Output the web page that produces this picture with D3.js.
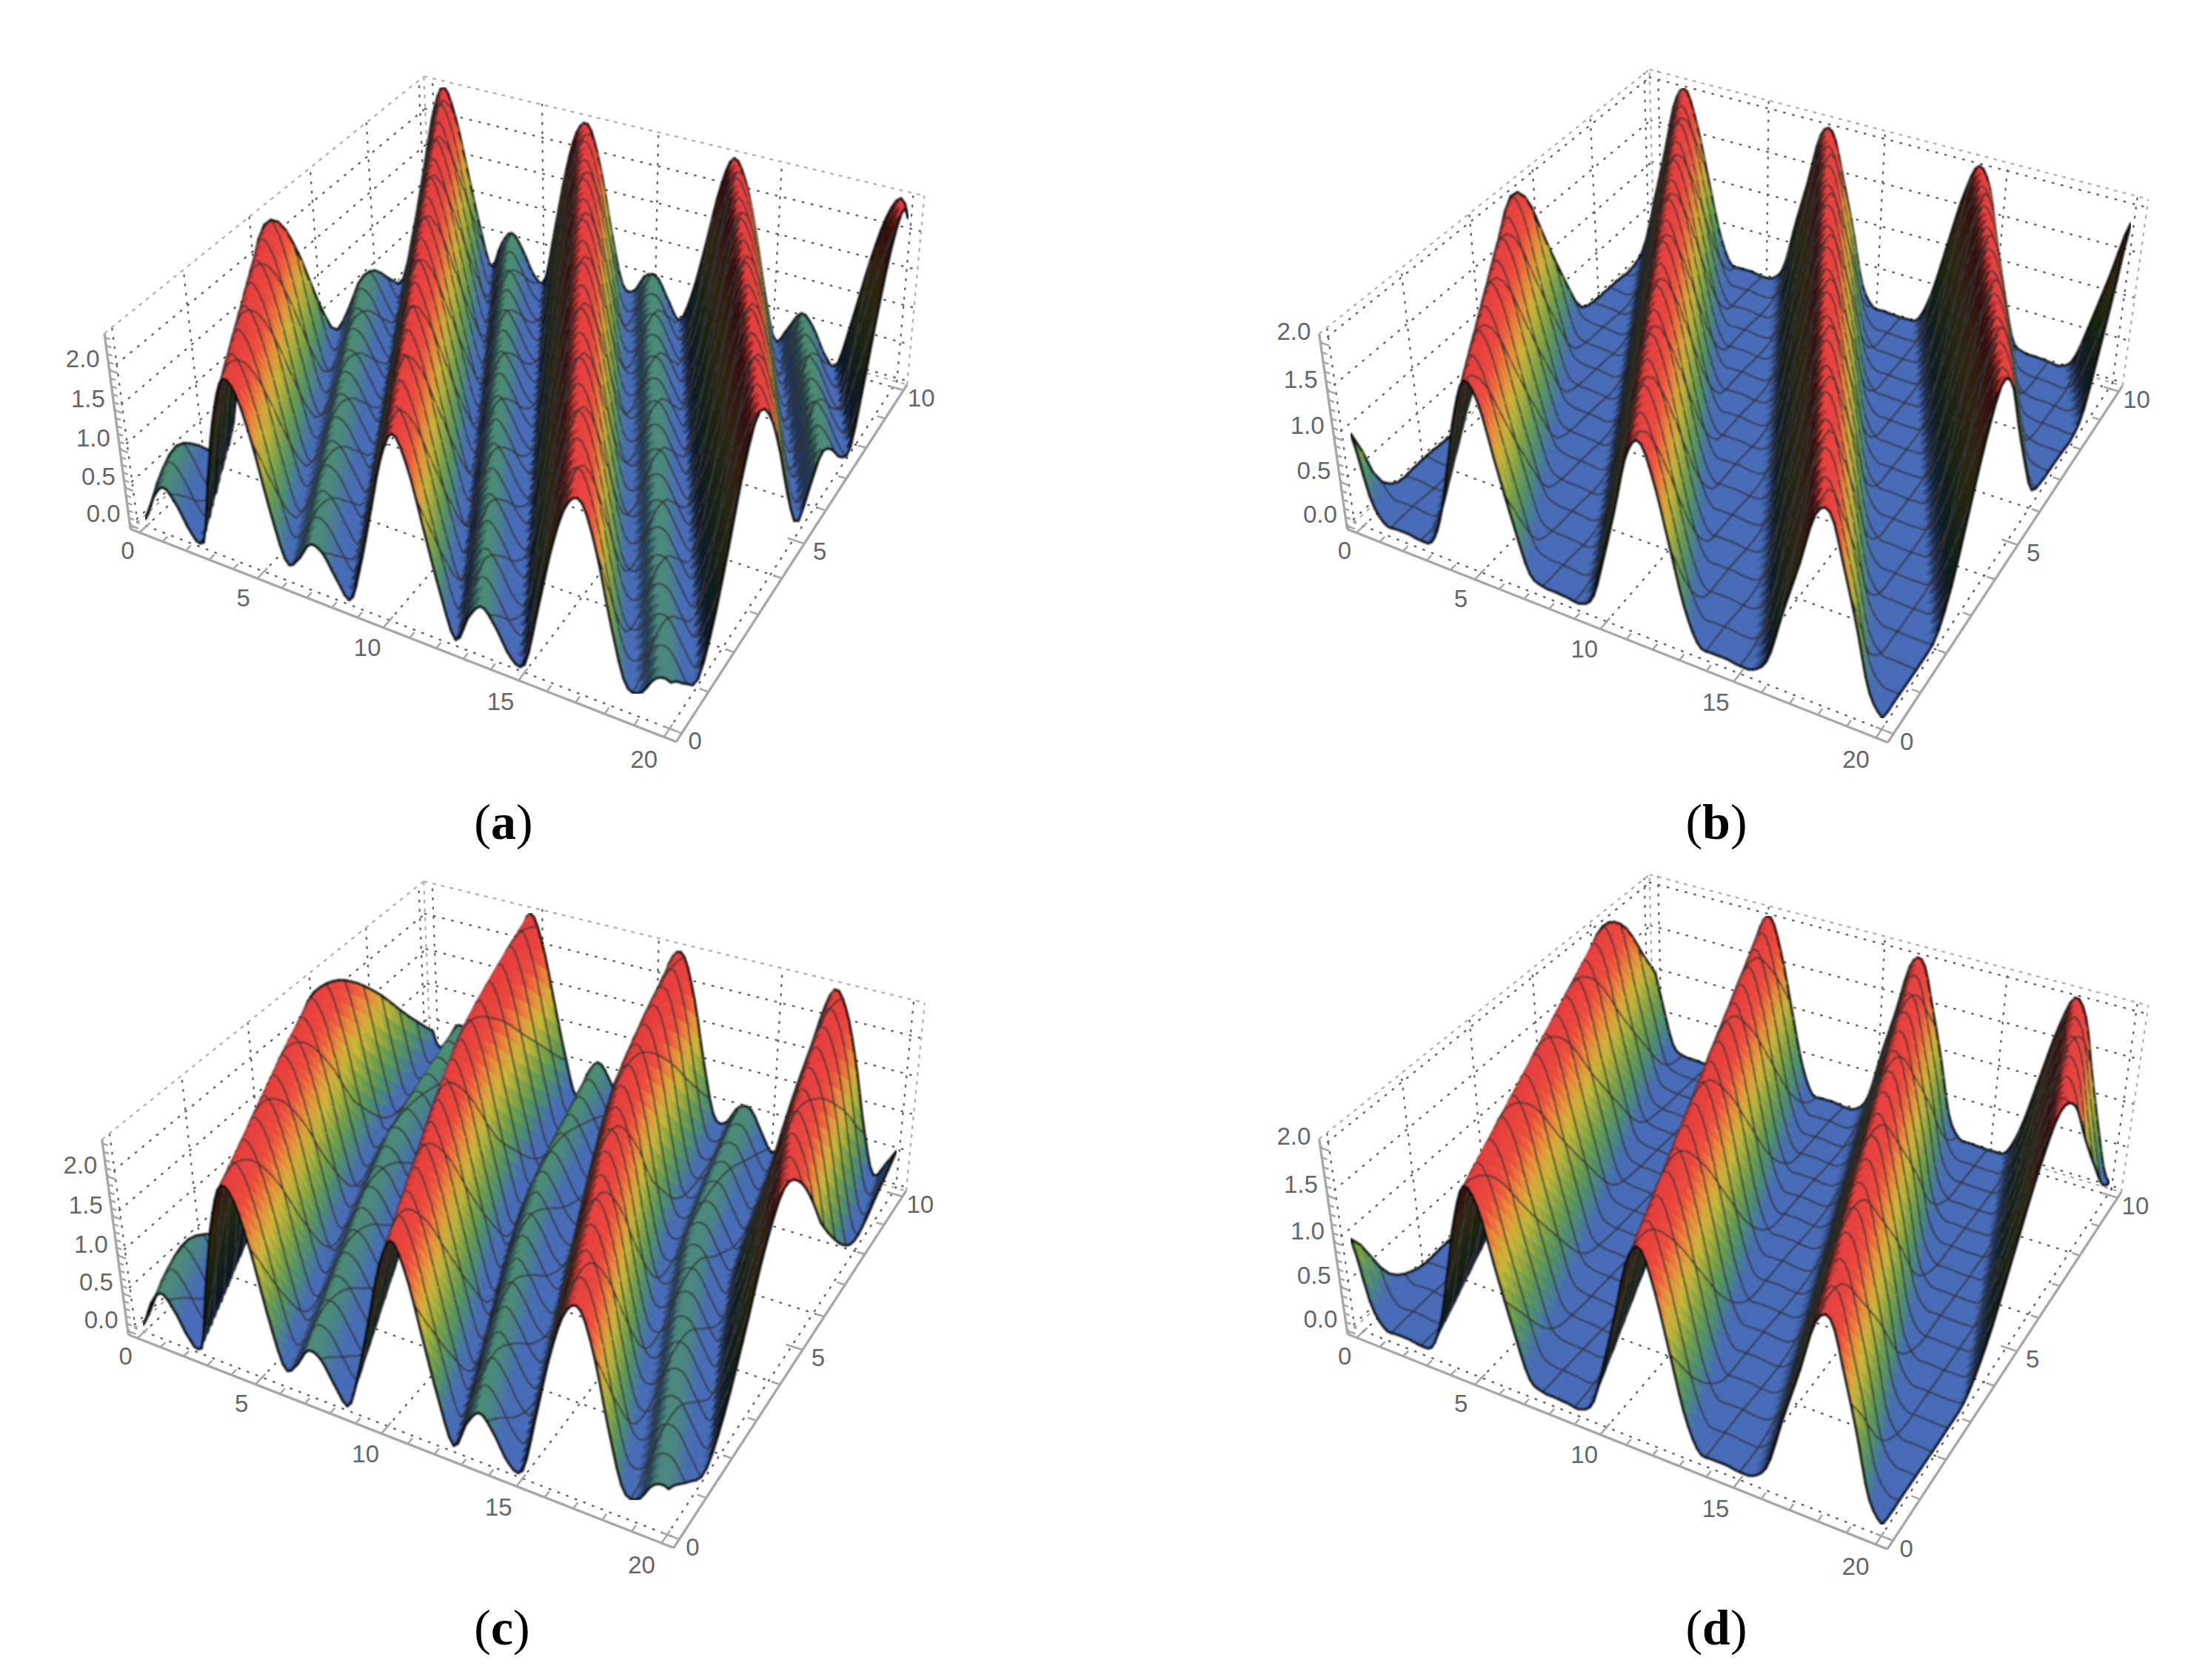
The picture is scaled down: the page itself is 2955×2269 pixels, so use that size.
<!DOCTYPE html>
<html><head><meta charset="utf-8">
<script src="https://cdn.jsdelivr.net/npm/d3@7/dist/d3.min.js"></script>
<style>html,body{margin:0;padding:0;background:#fff}svg{display:block}</style>
</head><body><svg id="chart" width="2955" height="2269"></svg>
<script>
// ---------- data ----------
// height along the wave phase (x + rowShift), sampled every 0.5
const phaseStep = 0.5;
const profileBumped = [.05,.40,.58,.40,.10,.03,.95,1.75,2.25,2.15,1.60,.80,.20,.30,.55,.50,.22,.02,.55,1.25,1.95,2.30,1.95,1.25,.55,.03,.38,.58,.38,.08,.05,.80,1.60,2.15,2.25,1.75,.95,.30,.25,.50,.52,.25,.03,.42,1.10,1.85,2.28,2.05,1.45,.68,.12,.33,.57,.42,.12,.02,.68,1.45,2.05,2.28,1.85];
const profileFlat = [1.00,.33,.09,.08,.08,.06,.10,.45,1.05,1.65,2.03,1.85,1.25,.68,.18,.08,.07,.06,.05,.18,.68,1.25,1.85,2.03,1.65,1.05,.45,.10,.07,.07,.05,.07,.25,.82,1.35,1.92,1.98,1.50,.95,.33,.09,.07,.06,.06,.10,.45,1.05,1.65,2.03,1.85,1.25,.68,.18,.08,.07,.06,.05,.18,.68,1.25,1.85];
// how far the ridges slide in x, at y = 0,1,...,10
const rowY = [0,1,2,3,4,5,6,7,8,9,10];
const shiftA = [0,.98,1.95,2.93,3.9,4.88,5.85,6.83,7.8,8.78,9.75];
const shiftB = [0,1,2,3,4,5,6,7,8,9,10];
const shiftC = [0,.72,1.44,2.16,2.88,3.55,4.2,4.65,5.05,5.42,5.8];
const shiftD = [0,.62,1.24,1.86,2.48,3.1,3.72,4.34,4.96,5.58,6.2];
// how much taller the ridges stand, at the same y stations
const gainA = [1,1.006,1.012,1.018,1.024,1.03,1.036,1.042,1.048,1.054,1.06];
const gainB = [1,1,1,1,1,1,1,1,1,1,1];
const gainC = [1,1,1,1,1,1,1.005,1.02,1.035,1.05,1.06];
const gainD = [1,1,1,1,1,1,1,1,1,1,1];
const xTickValues = [0,5,10,15,20];
const yTickValues = [0,5,10];
const zTickValues = [0,.5,1,1.5,2];
const yGridValues = [0,2,4,6,8,10];
const captions = ["a","b","c","d"];

// ---------- layout ----------
const panels = [
 {cap:0,profile:profileBumped,shift:shiftA,gain:gainA,zLo:-.05,zHi:2.45,capX:680,capY:1133,
  box:{c000:[179,714],c100:[914,1002],c110:[1227,518],c010:[578,338],c001:[138,451],c111:[1246,265],c011:[577,102]}},
 {cap:1,profile:profileFlat,shift:shiftB,gain:gainB,zLo:-.04,zHi:2.09,capX:2318,capY:1133,
  box:{c000:[1821,714],c100:[2553,1002],c110:[2867,522],c010:[2232,332],c001:[1780,454],c111:[2899,268],c011:[2231,92]}},
 {cap:2,profile:profileBumped,shift:shiftC,gain:gainC,zLo:-.05,zHi:2.45,capX:678,capY:2221,
  box:{c000:[175,1801],c100:[912,2090],c110:[1225,1609],c010:[578,1425],c001:[135,1542],c111:[1246,1353],c011:[577,1189]}},
 {cap:3,profile:profileFlat,shift:shiftD,gain:gainD,zLo:-.04,zHi:2.09,capX:2318,capY:2221,
  box:{c000:[1821,1801],c100:[2553,2091],c110:[2865,1612],c010:[2232,1419],c001:[1780,1542],c111:[2899,1356],c011:[2231,1180]}}
];
const xDom=[-.4,20.4], yDom=[-.2,10.2];
const NX=128, NY=48, meshEveryX=8, meshEveryY=3;
const colorZ = d3.scaleLinear()
  .domain([0,.12,.25,.4,.6,.72,.86,1])
  .range(["#4568b4","#4569b0","#47886f","#6f9a45","#c4b236","#e08a38","#e54b3a","#e03c3c"])
  .clamp(true);
const LIGHT=[.78,.35,.52];

function solve(A,b){
  const n=b.length, M=A.map((r,i)=>[...r,b[i]]);
  for(let c=0;c<n;c++){
    let p=c; for(let r=c+1;r<n;r++) if(Math.abs(M[r][c])>Math.abs(M[p][c])) p=r;
    [M[c],M[p]]=[M[p],M[c]];
    for(let r=0;r<n;r++){ if(r===c) continue; const f=M[r][c]/M[c][c];
      for(let k=c;k<=n;k++) M[r][k]-=f*M[c][k]; }
  }
  return M.map((r,i)=>r[n]/r[i]);
}
function fitCamera(box){
  const L=(a,b,t)=>[a[0]+(b[0]-a[0])*t,a[1]+(b[1]-a[1])*t];
  const pts=[[[0,0,0],box.c000],[[1,0,0],box.c100],[[1,1,0],box.c110],[[0,1,0],box.c010],
             [[0,0,1],box.c001],[[1,1,1],box.c111],[[0,1,1],box.c011],
             [[.5,0,0],L(box.c000,box.c100,.46)],[[1,.5,0],L(box.c100,box.c110,.55)]];
  const rows=[],rhs=[];
  pts.forEach(([[u,v,w],[sx,sy]])=>{
    const X=sx/1000,Y=sy/1000;
    rows.push([u,v,w,1,0,0,0,0,-u*X,-v*X,-w*X]); rhs.push(X);
    rows.push([0,0,0,0,u,v,w,1,-u*Y,-v*Y,-w*Y]); rhs.push(Y);
  });
  const ATA=d3.range(11).map(i=>d3.range(11).map(j=>d3.sum(rows,r=>r[i]*r[j])));
  const ATb=d3.range(11).map(i=>d3.sum(rows,(r,k)=>r[i]*rhs[k]));
  const p=solve(ATA,ATb);
  return (u,v,w)=>{const d=p[8]*u+p[9]*v+p[10]*w+1;
    return [1000*(p[0]*u+p[1]*v+p[2]*w+p[3])/d,1000*(p[4]*u+p[5]*v+p[6]*w+p[7])/d];};
}
function lookup(arr,phi){
  const t=phi/phaseStep, i=Math.min(arr.length-2,Math.max(0,Math.floor(t))), f=t-i;
  const a=arr[Math.max(0,i-1)],b=arr[i],c=arr[i+1],d=arr[Math.min(arr.length-1,i+2)];
  return Math.max(0,b+.5*f*(c-a+f*(2*a-5*b+4*c-d+f*(3*(b-c)+d-a))));
}
const pth=pts=>{const q=d3.path();pts.forEach((p,i)=>i?q.lineTo(p[0],p[1]):q.moveTo(p[0],p[1]));return q.toString();};
const svg=d3.select("#chart");
svg.append("defs").append("filter").attr("id","soft").attr("x",0).attr("y",0).attr("width",1).attr("height",1)
  .attr("filterUnits","objectBoundingBox").append("feGaussianBlur").attr("stdDeviation",.9);

panels.forEach(pn=>{
  const cam=fitCamera(pn.box);
  const U=d3.scaleLinear().domain(xDom).range([0,1]),V=d3.scaleLinear().domain(yDom).range([0,1]),
        W=d3.scaleLinear().domain([pn.zLo,pn.zHi]).range([0,1]);
  const P=(x,y,z)=>cam(U(x),V(y),W(z));
  const S=d3.scaleLinear().domain(rowY).range(pn.shift);
  const G=d3.scaleLinear().domain(rowY).range(pn.gain);
  const g=svg.append("g");
  // ---- face grids
  const [x0,x1]=xDom,[y0,y1]=yDom,[z0,z1]=[pn.zLo,pn.zHi];
  const grid=[];
  xTickValues.forEach(x=>{grid.push([P(x,y0,z0),P(x,y1,z0)]);grid.push([P(x,y1,z0),P(x,y1,z1)]);});
  yGridValues.forEach(y=>{grid.push([P(x0,y,z0),P(x1,y,z0)]);grid.push([P(x0,y,z0),P(x0,y,z1)]);});
  zTickValues.forEach(z=>{grid.push([P(x0,y0,z),P(x0,y1,z)]);grid.push([P(x0,y1,z),P(x1,y1,z)]);});
  g.append("g").selectAll("path").data(grid).join("path").attr("d",pth).attr("fill","none")
    .attr("stroke","#6e6e6e").attr("stroke-width",2.6).attr("stroke-linecap","round").attr("stroke-dasharray","1.5 11");
  const edges=[[P(x0,y0,z1),P(x0,y1,z1)],[P(x0,y1,z1),P(x1,y1,z1)],[P(x1,y1,z0),P(x1,y1,z1)],[P(x0,y1,z0),P(x0,y1,z1)],
               [P(x0,y1,z0),P(x1,y1,z0)],[P(x0,y0,z0),P(x0,y1,z0)]];
  g.append("g").selectAll("path").data(edges).join("path").attr("d",pth).attr("fill","none")
    .attr("stroke","#b4b4b4").attr("stroke-width",2.4).attr("stroke-dasharray","5 7");
  // ---- axes
  const axes=[[P(x0,y0,z0),P(x1,y0,z0)],[P(x1,y0,z0),P(x1,y1,z0)],[P(x0,y0,z0),P(x0,y0,z1)]];
  const ticks=[];
  d3.range(0,21,1).forEach(x=>{const l=x%5===0?.3:.15;ticks.push([P(x,y0,z0),P(x,y0+l,z0)]);});
  d3.range(0,11,1).forEach(y=>{const l=y%5===0?.6:.3;ticks.push([P(x1,y,z0),P(x1-l,y,z0)]);});
  d3.range(0,Math.floor(pn.zHi*10)+1).forEach(k=>{const z=k/10,l=k%5===0?.36:.22;ticks.push([P(x0,y0,z),P(x0+l,y0,z)]);});
  g.append("g").selectAll("path").data(axes.concat(ticks)).join("path").attr("d",pth).attr("fill","none")
    .attr("stroke","#a8a8a8").attr("stroke-width",(d,i)=>i<3?3.4:2.6);
  // ---- surface, drawn far to near
  const xs=d3.range(NX+1).map(i=>20*i/NX), ys=d3.range(NY+1).map(j=>10*j/NY);
  const Z=ys.map(y=>xs.map(x=>G(y)*lookup(pn.profile,x+S(y))));
  const P3=(i,j)=>P(xs[i],ys[j],Z[j][i]);
  const box3=(i,j)=>[U(xs[i]),V(ys[j]),.2*W(Z[j][i])];
  const zMax=d3.max(pn.profile);
  const marks=[];
  const edge=(a,b,black)=>marks.push({d:pth([a,b]),s:black?"#0a0a0a":"#343434",w:black?3.4:2.1});
  for(let j=NY-1;j>=0;j--)for(let i=0;i<NX;i++){
    const a=box3(i,j),b=box3(i+1,j),c=box3(i+1,j+1),e=box3(i,j+1);
    const d1=[c[0]-a[0],c[1]-a[1],c[2]-a[2]],d2=[e[0]-b[0],e[1]-b[1],e[2]-b[2]];
    let n=[d2[1]*d1[2]-d2[2]*d1[1],d2[2]*d1[0]-d2[0]*d1[2],d2[0]*d1[1]-d2[1]*d1[0]];
    if(n[2]<0)n=n.map(v=>-v);
    const len=Math.hypot(...n);
    const dot=(n[0]*LIGHT[0]+n[1]*LIGHT[1]+n[2]*LIGHT[2])/len;
    const shade=Math.min(1.03,Math.max(.22,.8+dot*1.15));
    const zm=(Z[j][i]+Z[j][i+1]+Z[j+1][i]+Z[j+1][i+1])/4;
    const col=d3.rgb(colorZ(zm/zMax));
    const fill=d3.rgb(col.r*shade,col.g*shade,col.b*shade).formatHex();
    const q=[P3(i,j),P3(i+1,j),P3(i+1,j+1),P3(i,j+1)];
    marks.push({d:pth(q)+"Z",f:fill});
    // mesh and boundary segments that belong to this cell
    if(j===NY-1) edge(P3(i,j+1),P3(i+1,j+1),true);
    else if((j+1)%meshEveryY===0) edge(P3(i,j+1),P3(i+1,j+1),false);
    if(i===0) edge(P3(i,j),P3(i,j+1),true);
    else if(i%meshEveryX===0) edge(P3(i,j),P3(i,j+1),false);
    if(i===NX-1) edge(P3(i+1,j),P3(i+1,j+1),true);
    if(j===0) edge(P3(i,j),P3(i+1,j),true);
  }
  g.append("g").attr("filter","url(#soft)").selectAll("path").data(marks).join("path")
    .attr("d",d=>d.d).attr("fill",d=>d.f||"none").attr("stroke",d=>d.s||d.f)
    .attr("stroke-width",d=>d.w||.8).attr("stroke-linecap","round");
  // ---- tick labels
  const text=g.append("g").attr("font-family","'Liberation Sans',Arial,sans-serif").attr("font-size",33).attr("fill","#666");
  text.selectAll(".x").data(xTickValues).join("text").attr("class","x").attr("text-anchor","middle")
    .attr("x",d=>P(d,y0,z0)[0]-27+11*(1-d/20)).attr("y",d=>P(d,y0,z0)[1]+41-5*(1-d/20)).text(d=>d);
  text.selectAll(".y").data(yTickValues).join("text").attr("class","y").attr("text-anchor","middle")
    .attr("x",d=>P(x1,d,z0)[0]+18+.6*d).attr("y",d=>P(x1,d,z0)[1]+22).text(d=>d);
  text.selectAll(".z").data(zTickValues).join("text").attr("class","z").attr("text-anchor","end")
    .attr("x",d=>P(x0,y0,d)[0]-13).attr("y",d=>P(x0,y0,d)[1]-4).text(d3.format(".1f"));
  // ---- caption
  const cap=g.append("text").attr("x",pn.capX).attr("y",pn.capY).attr("text-anchor","middle")
    .attr("font-family","'Liberation Serif',serif").attr("font-size",68).attr("fill","#000");
  cap.append("tspan").text("(");
  cap.append("tspan").attr("font-weight","bold").text(captions[pn.cap]);
  cap.append("tspan").text(")");
});
</script></body></html>
